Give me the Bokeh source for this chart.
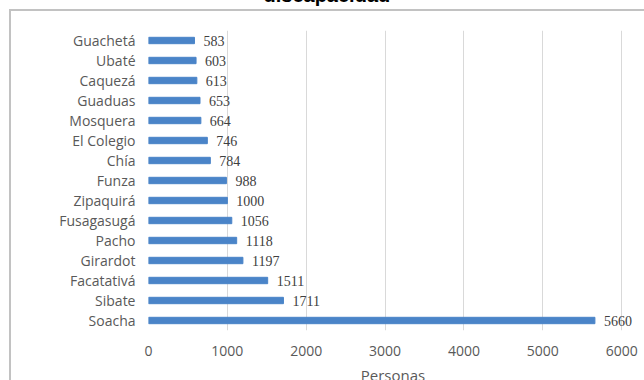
from bokeh.plotting import figure
from bokeh.models import ColumnDataSource, LabelSet, FactorRange
from bokeh.embed import file_html
from bokeh.resources import INLINE

municipios = ["Guachetá", "Ubaté", "Caquezá", "Guaduas", "Mosquera", "El Colegio", "Chía",
              "Funza", "Zipaquirá", "Fusagasugá", "Pacho", "Girardot", "Facatativá", "Sibate", "Soacha"]
personas = [583, 603, 613, 653, 664, 746, 784, 988, 1000, 1056, 1118, 1197, 1511, 1711, 5660]
x_ticks = [0, 1000, 2000, 3000, 4000, 5000, 6000]
title_text = "discapacidad"
x_title = "Personas"

FONT = "Open Sans"
OY = 50                      # canvas starts OY px above the page top
EB = 12                      # canvas extends EB px below the window
W, H = 644, 380 + OY + EB
FL, FR, FT, FB = 148, 637, 30 + OY, 330 + OY

factors = list(reversed(municipios))
src = ColumnDataSource(dict(m=municipios, v=personas, lab=[str(v) for v in personas]))

p = figure(width=W, height=H, y_range=FactorRange(*factors), x_range=(0, 6200),
           output_backend="svg", toolbar_location=None,
           min_border_left=FL, min_border_right=W - FR, min_border_top=FT, min_border_bottom=H - FB)
p.margin = (-OY, 0, -EB, 0)
p.outline_line_color = None
p.background_fill_color = "white"
p.border_fill_color = None
p.styles = {
    "background-image": "linear-gradient(#c2c2c2,#c2c2c2), linear-gradient(#c2c2c2,#c2c2c2)",
    "background-position": "9px %dpx, 9px %dpx" % (9 + OY, 9 + OY),
    "background-size": "2px 100%, 100% 2px",
    "background-repeat": "no-repeat, no-repeat",
    "background-color": "white",
}

p.title.text = title_text
p.title.align = "left"
p.title.offset = 263 - FL
p.title.text_font = "Liberation Sans"
p.title.text_font_size = "20px"
p.title.text_font_style = "bold"
p.title.text_color = "#000000"
p.title.standoff = 49

p.hbar(y="m", right="v", left=0, height=0.32, source=src, color="#4a84c8")

p.add_layout(LabelSet(x="v", y="m", text="lab", source=src, x_offset=9, y_offset=0,
                      text_baseline="middle", text_align="left", text_font=FONT,
                      text_font_size="14px", text_color="#404040"))

p.xgrid.grid_line_color = "#d9d9d9"
p.ygrid.grid_line_color = None
p.xaxis.ticker = x_ticks
p.xaxis.axis_line_color = None
p.xaxis.major_tick_line_color = None
p.xaxis.minor_tick_line_color = None
p.xaxis.major_label_standoff = 9
p.xaxis.major_label_text_font = FONT
p.xaxis.major_label_text_font_size = "14px"
p.xaxis.major_label_text_color = "#595959"
p.xaxis.axis_label = x_title
p.xaxis.axis_label_text_font = FONT
p.xaxis.axis_label_text_font_size = "15px"
p.xaxis.axis_label_text_font_style = "normal"
p.xaxis.axis_label_text_color = "#595959"
p.xaxis.axis_label_standoff = 6

p.yaxis.axis_line_color = None
p.yaxis.major_tick_line_color = None
p.yaxis.minor_tick_line_color = None
p.yaxis.major_label_standoff = 7
p.yaxis.major_label_text_font = FONT
p.yaxis.major_label_text_font_size = "14px"
p.yaxis.major_label_text_color = "#595959"

open("out.html", "w").write(file_html(p, INLINE))
